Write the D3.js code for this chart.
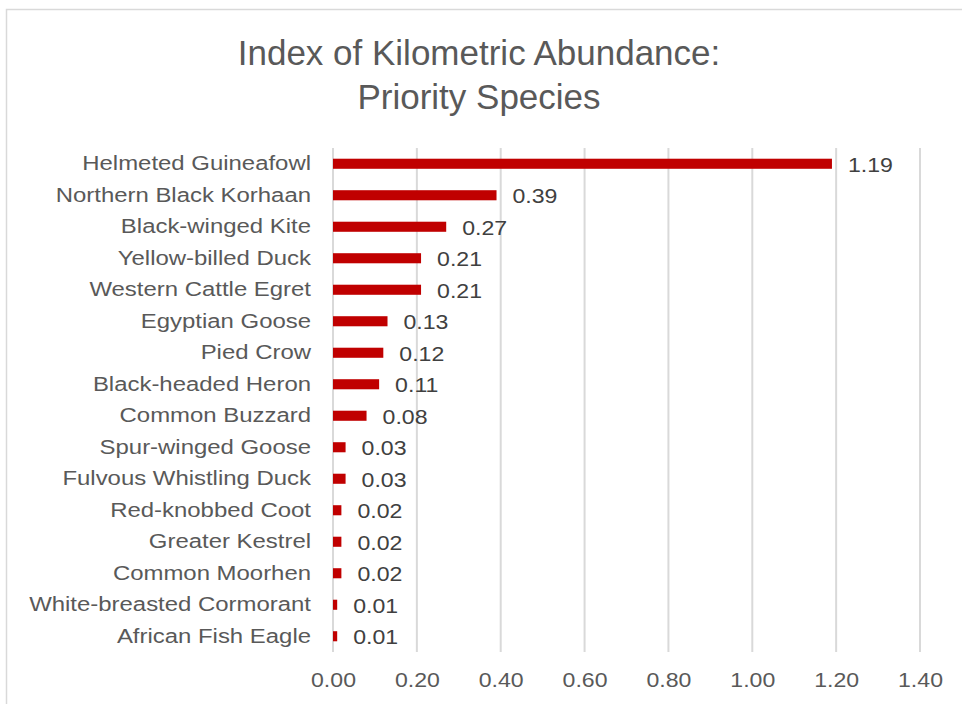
<!DOCTYPE html>
<html>
<head>
<meta charset="utf-8">
<script src="https://cdn.jsdelivr.net/npm/d3@7"></script>
<style>
  body { margin: 0; background: #fff; }
  text { font-family: "Liberation Sans", Arial, sans-serif; }
</style>
</head>
<body>
<div class="chart"></div>
<script>
let species = ["Helmeted Guineafowl", "Northern Black Korhaan", "Black-winged Kite", "Yellow-billed Duck",
  "Western Cattle Egret", "Egyptian Goose", "Pied Crow", "Black-headed Heron", "Common Buzzard",
  "Spur-winged Goose", "Fulvous Whistling Duck", "Red-knobbed Coot", "Greater Kestrel",
  "Common Moorhen", "White-breasted Cormorant", "African Fish Eagle"]
let ika = [1.19, 0.39, 0.27, 0.21, 0.21, 0.13, 0.12, 0.11, 0.08, 0.03, 0.03, 0.02, 0.02, 0.02, 0.01, 0.01]
let xTicks = [0, 0.2, 0.4, 0.6, 0.8, 1.0, 1.2, 1.4]
let titleLines = ["Index of Kilometric Abundance:", "Priority Species"]

let w = 962
let h = 704
let padLeft = 333, padRight = 920, padTop = 148, padBottom = 652
// the picture's text is a little wider than Arial, stretch it sideways
let stretch = 1.14

let svg = d3.select(".chart")
  .append("svg")
  .attr("width", w)
  .attr("height", h)

// chart border
svg.append("rect")
  .attr("x", 6.5).attr("y", 9.5)
  .attr("width", w + 10).attr("height", h + 10)
  .attr("fill", "none")
  .attr("stroke", "#d9d9d9")
  .attr("stroke-width", 1.5)

svg.selectAll(".title")
  .data(titleLines)
  .enter()
  .append("text")
  .attr("class", "title")
  .attr("x", 479)
  .attr("y", (d, i) => 65 + i * 44)
  .attr("text-anchor", "middle")
  .style("font-size", "35px")
  .style("fill", "#595959")
  .text(d => d)

const xScale = d3.scaleLinear()
  .domain([0, 1.4])
  .range([padLeft, padRight])

const yScale = d3.scaleBand()
  .domain(species)
  .range([padTop, padBottom])
  .paddingInner(0.68)
  .paddingOuter(0.34)

// gridlines
svg.append("g")
  .selectAll("line")
  .data(xTicks)
  .enter()
  .append("line")
  .attr("x1", d => xScale(d)).attr("x2", d => xScale(d))
  .attr("y1", padTop).attr("y2", padBottom)
  .attr("stroke", "#d9d9d9")
  .attr("stroke-width", 2)

const xAxis = d3.axisBottom(xScale)
  .tickValues(xTicks)
  .tickFormat(d3.format(".2f"))
  .tickSize(0)
  .tickPadding(20)

svg.append("g")
  .attr("transform", "translate(0," + padBottom + ")")
  .call(xAxis)
  .call(g => g.select(".domain").remove())
  .selectAll("text")
  .attr("transform", "scale(1.1,1)")
  .style("font-size", "21px")
  .style("font-family", "'Liberation Sans', Arial, sans-serif")
  .style("fill", "#595959")

const yAxis = d3.axisLeft(yScale)
  .tickSize(0)
  .tickPadding(22)

svg.append("g")
  .attr("transform", "translate(" + padLeft + ",0)")
  .call(yAxis)
  .call(g => g.select(".domain").remove())
  .selectAll("text")
  .attr("x", -22 / stretch)
  .attr("transform", "scale(" + stretch + ",1)")
  .style("font-size", "21px")
  .style("font-family", "'Liberation Sans', Arial, sans-serif")
  .style("fill", "#595959")

svg.selectAll(".bar")
  .data(species)
  .enter()
  .append("rect")
  .attr("class", "bar")
  .attr("x", xScale(0))
  .attr("y", d => yScale(d))
  .attr("width", (d, i) => xScale(ika[i]) - xScale(0))
  .attr("height", yScale.bandwidth())
  .style("fill", "#c00000")

svg.selectAll(".val")
  .data(species)
  .enter()
  .append("text")
  .attr("class", "val")
  .attr("transform", (d, i) => "translate(" + (xScale(ika[i]) + 16) + "," + (yScale(d) + yScale.bandwidth() / 2 + 8) + ") scale(1.1,1)")
  .style("font-size", "21px")
  .style("fill", "#404040")
  .text((d, i) => d3.format(".2f")(ika[i]))
</script>
</body>
</html>
